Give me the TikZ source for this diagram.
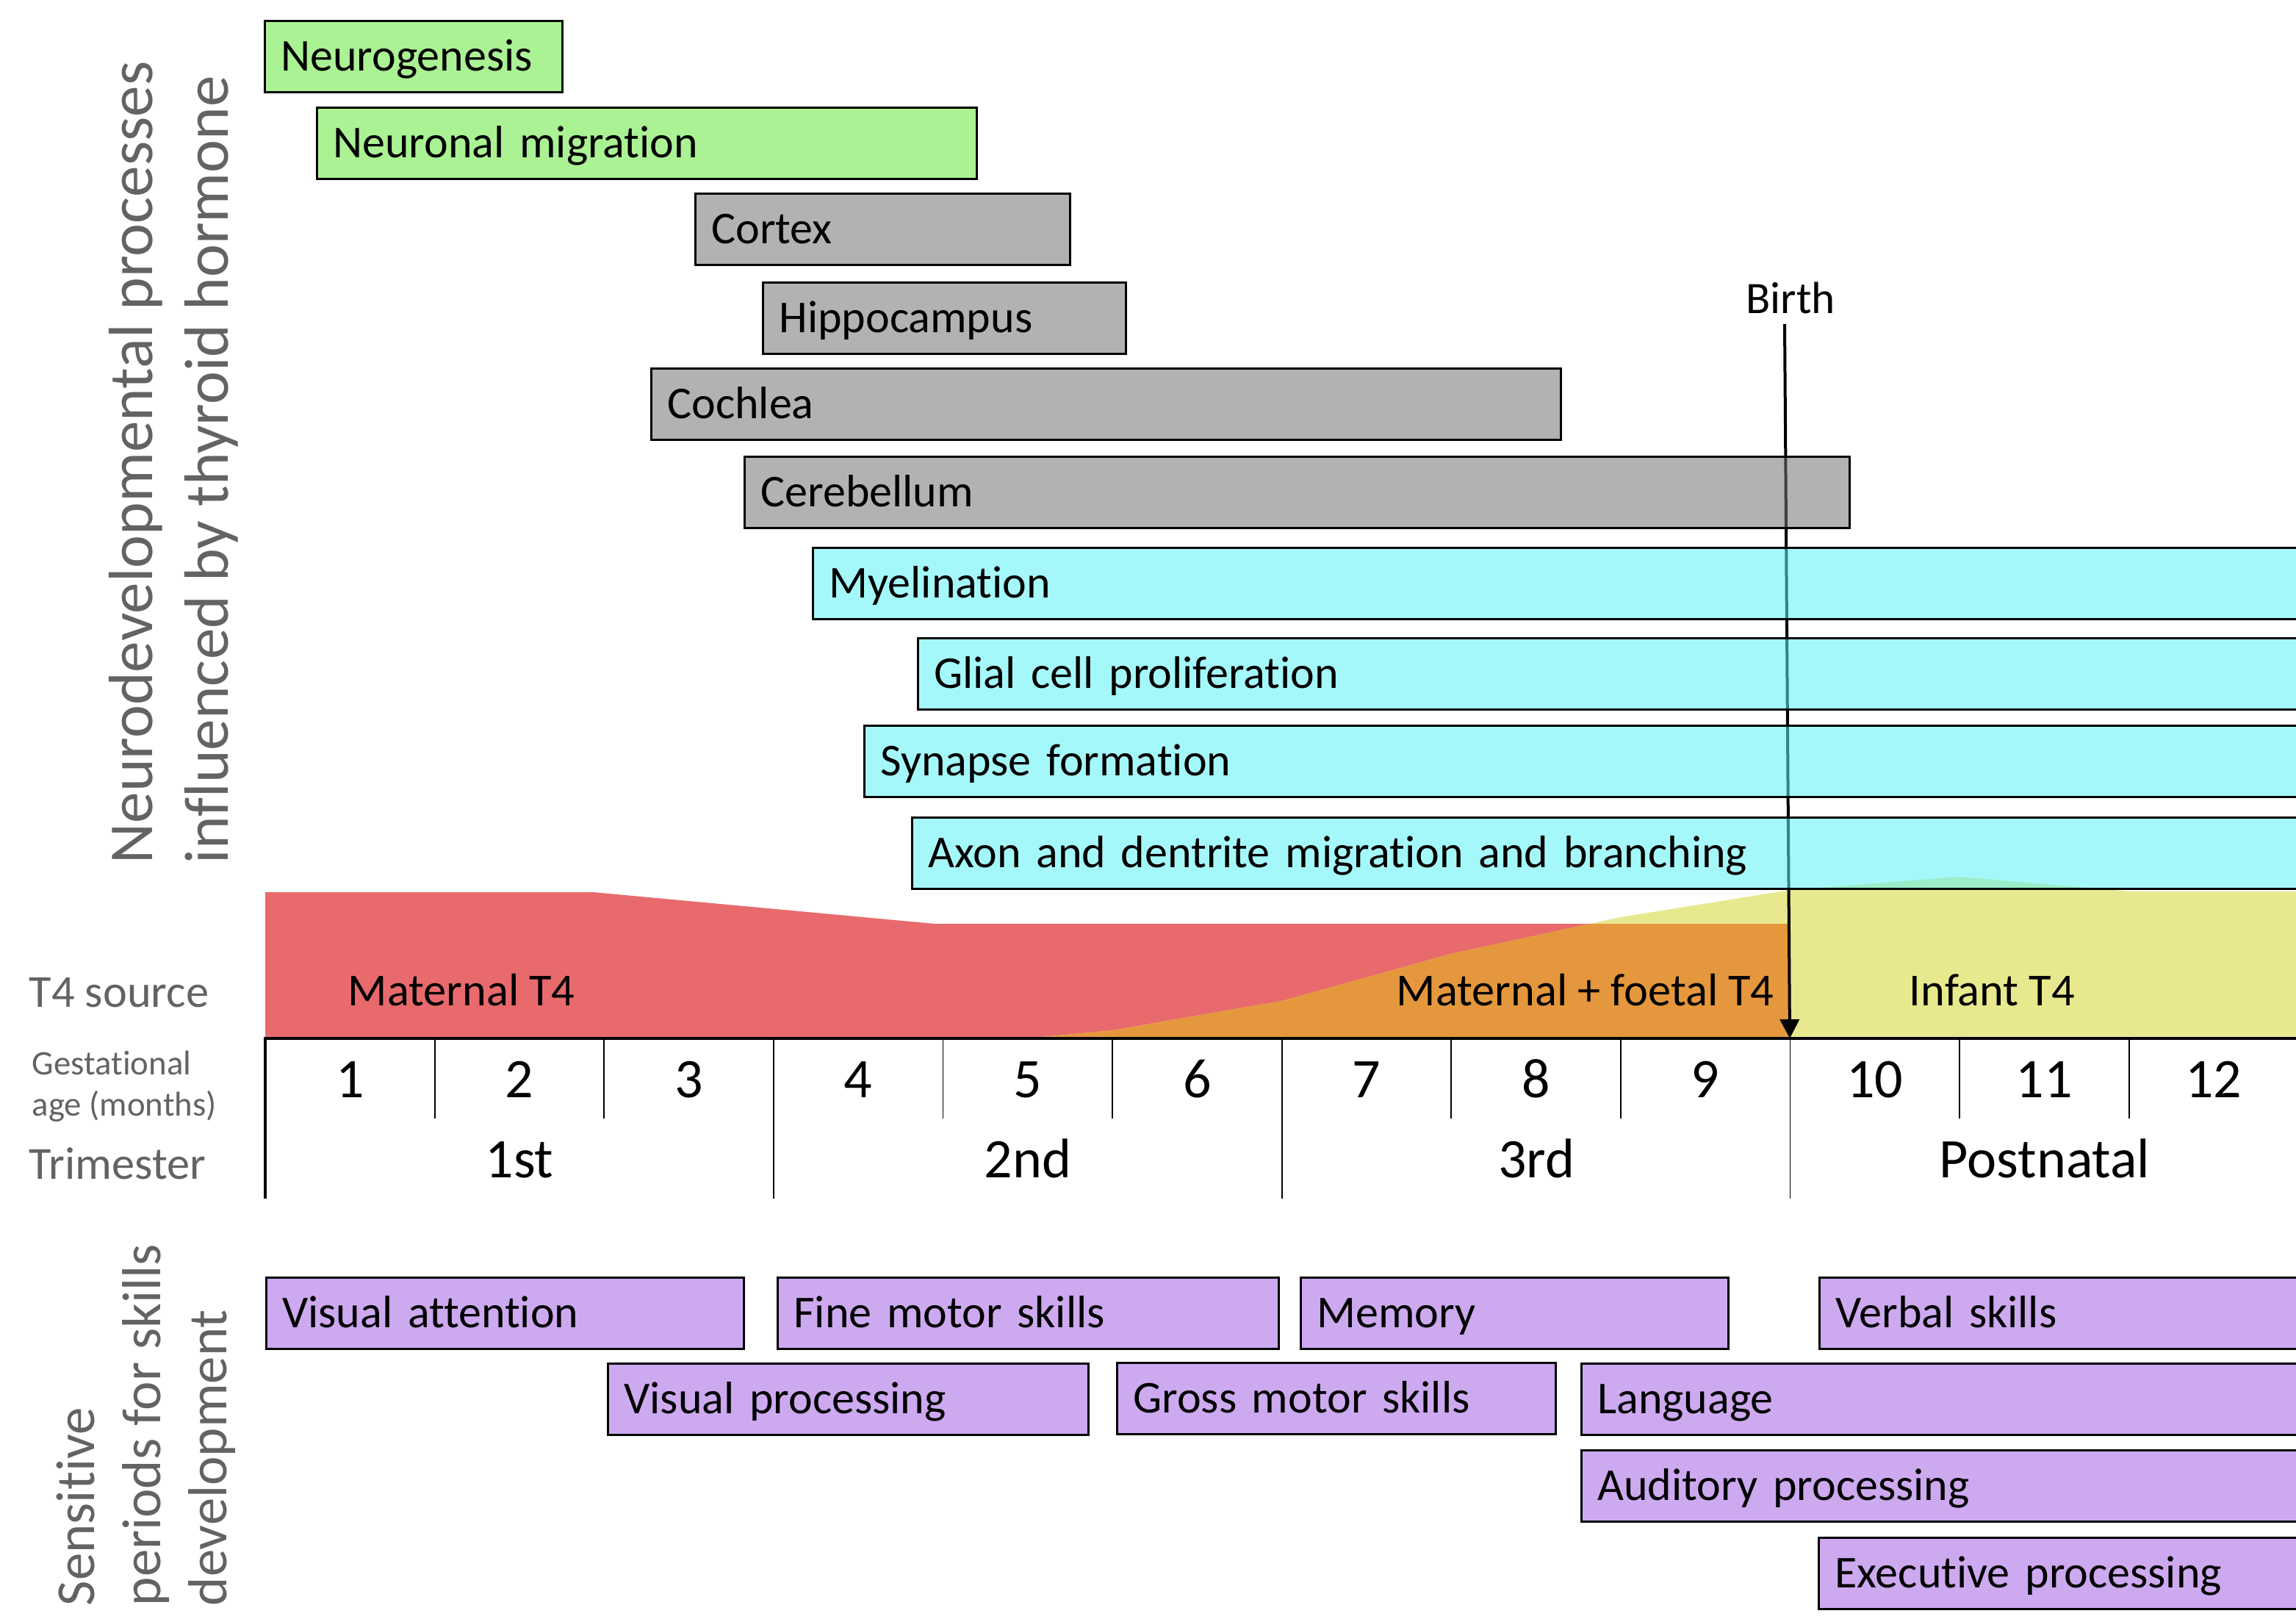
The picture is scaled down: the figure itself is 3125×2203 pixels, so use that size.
\documentclass[tikz,border=0pt]{standalone}
\usepackage{fontspec}
\setmainfont{Carlito}[Ligatures=NoCommon]
\usetikzlibrary{arrows.meta}
\definecolor{gboxc}{RGB}{170,242,148}
\definecolor{greybase}{RGB}{115,115,115}
\definecolor{cyanbase}{RGB}{91,242,246}
\definecolor{purp}{RGB}{205,169,240}
\definecolor{matred}{RGB}{232,106,108}
\definecolor{mforange}{RGB}{229,151,61}
\definecolor{infyellow}{RGB}{232,232,142}
\definecolor{lblgray}{RGB}{99,99,99}
\begin{document}
\begin{tikzpicture}[x=0.25pt,y=-0.25pt,
  bar/.style={draw=black, line width=0.7pt, anchor=north west, minimum height=24.25pt,
    inner xsep=5.5pt, inner ysep=0pt, text height=10pt, text depth=0pt, align=left,
    font=\fontsize{15.5}{18}\selectfont},
  greenbar/.style={bar, fill=gboxc},
  greybar/.style={bar, fill=greybase, fill opacity=0.55, text opacity=1},
  cyanbar/.style={bar, fill=cyanbase, fill opacity=0.55, text opacity=1},
  purplebar/.style={bar, fill=purp},
  sidelbl/.style={text=lblgray, inner sep=0pt, anchor=base west},
  bigside/.style={sidelbl, rotate=90, font=\fontsize{21.3}{25.6}\selectfont},
  midside/.style={sidelbl, rotate=90, font=\fontsize{18.7}{22.4}\selectfont},
  axlbl/.style={inner sep=0pt, anchor=base, font=\fontsize{19}{22}\selectfont},
  t4lbl/.style={inner sep=0pt, anchor=base west, font=\fontsize{15.6}{18}\selectfont},
  tick/.style={line width=0.45pt}
]
\useasboundingbox (0,0) rectangle (3125,2203);

% T4 source areas
\fill[matred] (361,1413) -- (361,1214) -- (807,1214) -- (1272,1257) -- (2436,1257) -- (2436,1413) -- cycle;
\fill[infyellow] (1397,1413) -- (1514,1402) -- (1745,1362) -- (1975,1298) -- (2206,1248) -- (2436,1211) -- (2667,1193) -- (2898,1213) -- (3135,1213) -- (3135,1413) -- cycle;
\fill[mforange] (1397,1413) -- (1514,1402) -- (1745,1362) -- (1975,1298) -- (2164,1257) -- (2436,1257) -- (2436,1413) -- cycle;

% axis
\draw[line width=1pt] (359,1413) -- (3135,1413);
\foreach \i in {1,2,4,5,7,8,10,11} \draw[tick] ({361+\i*230.6},1413) -- ({361+\i*230.6},1522);
\foreach \i in {3,6,9} \draw[tick] ({361+\i*230.6},1413) -- ({361+\i*230.6},1631);
\draw[line width=0.8pt] (361,1413) -- (361,1631);
\foreach \i in {1,...,12} \node[axlbl] (m\i) at ({361+(\i-0.5)*230.6},1493) {\i};
\node[axlbl] (tri1) at (707,1602) {1st};
\node[axlbl] (tri2) at (1399,1602) {2nd};
\node[axlbl] (tri3) at (2091,1602) {3rd};
\node[axlbl] (tri4) at (2783,1602) {Postnatal};

% T4 labels
\node[t4lbl] (lmat) at (473,1368) {Maternal T4};
\node[t4lbl] (lmf) at (1900,1368) {Maternal + foetal T4};
\node[t4lbl] (linf) at (2598,1368) {Infant T4};

% birth arrow
\node[inner sep=0pt, anchor=base, font=\fontsize{15.3}{18}\selectfont] (birth) at (2437,427) {Birth};
\coordinate (btop) at (2429,441);
\coordinate (bbot) at (2436,1413);
\draw[line width=1pt, -{Triangle[length=6.5pt,width=6.5pt]}] (btop) -- (bbot);

% process bars
\node[greenbar, text width=90.25pt] (neurog) at (359,27) {Neurogenesis};
\node[greenbar, text width=213.5pt] (nmig) at (430,145) {Neuronal migration};
\node[greybar, text width=116.5pt] (cortex) at (945,262) {Cortex};
\node[greybar, text width=112.5pt] (hippo) at (1037,383) {Hippocampus};
\node[greybar, text width=298.5pt] (cochlea) at (885,500) {Cochlea};
\node[greybar, text width=365pt] (cereb) at (1012,620) {Cerebellum};
\node[cyanbar, text width=497.75pt] (myel) at (1105,744) {Myelination};
\node[cyanbar, text width=462pt] (glial) at (1248,867) {Glial cell proliferation};
\node[cyanbar, text width=480.25pt] (synapse) at (1175,986) {Synapse formation};
\node[cyanbar, text width=464pt] (axon) at (1240,1111) {Axon and dentrite migration and branching};

% skills bars
\node[purplebar, text width=151.5pt] (visatt) at (361,1737) {Visual attention};
\node[purplebar, text width=159.5pt] (finemot) at (1057,1737) {Fine motor skills};
\node[purplebar, text width=134.5pt] (memory) at (1769,1737) {Memory};
\node[purplebar, text width=155.25pt] (verbal) at (2475,1737) {Verbal skills};
\node[purplebar, text width=152.5pt] (visproc) at (826,1854) {Visual processing};
\node[purplebar, text width=138.25pt] (grossmot) at (1519,1853) {Gross motor skills};
\node[purplebar, text width=236.25pt] (lang) at (2151,1854) {Language};
\node[purplebar, text width=236.25pt] (audproc) at (2151,1972) {Auditory processing};
\node[purplebar, text width=155.5pt] (execproc) at (2474,2091) {Executive processing};

% side labels
\node[bigside] (nd1) at (207,1176) {Neurodevelopmental processes};
\node[bigside] (nd2) at (310,1176) {influenced by thyroid hormone};
\node[midside] (sp1) at (128,2186) {Sensitive};
\node[midside] (sp2) at (218,2186) {periods for skills};
\node[midside] (sp3) at (308,2186) {development};
\node[sidelbl, font=\fontsize{15.6}{18}\selectfont] (t4src) at (39,1370) {T4 source};
\node[sidelbl, font=\fontsize{11.7}{14}\selectfont] (gest1) at (43,1462) {Gestational};
\node[sidelbl, font=\fontsize{11.7}{14}\selectfont] (gest2) at (43,1518) {age (months)};
\node[sidelbl, font=\fontsize{15.6}{18}\selectfont] (trim) at (39,1604) {Trimester};
\end{tikzpicture}
\end{document}
